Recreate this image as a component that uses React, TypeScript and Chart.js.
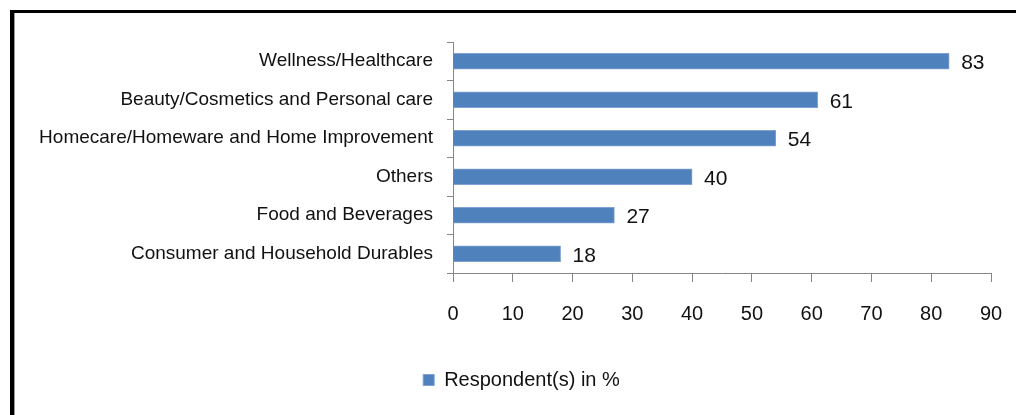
import React, { useEffect, useRef } from "react";
import { Chart, registerables } from "chart.js";

Chart.register(...registerables);

const categories = [
  "Wellness/Healthcare",
  "Beauty/Cosmetics and Personal care",
  "Homecare/Homeware and Home Improvement",
  "Others",
  "Food and Beverages",
  "Consumer and Household Durables",
];
const respondents = [83, 61, 54, 40, 27, 18];
const seriesLabel = "Respondent(s) in %";
const xMin = 0;
const xMax = 90;
const xStep = 10;

const FONT = "'Liberation Sans', Arial, sans-serif";

const valueLabels = {
  id: "valueLabels",
  afterDatasetsDraw(chart: any) {
    const ctx = chart.ctx;
    const meta = chart.getDatasetMeta(0);
    ctx.save();
    ctx.font = `21px ${FONT}`;
    ctx.fillStyle = "#111";
    ctx.textAlign = "left";
    ctx.textBaseline = "middle";
    meta.data.forEach((bar: any, i: number) => {
      ctx.fillText(String(respondents[i]), bar.x + 12, bar.y + 2);
    });
    ctx.restore();
  },
};

const legendShift = {
  id: "legendShift",
  afterLayout(chart: any) {
    if (chart.legend) {
      chart.legend.left += 26;
      chart.legend.right += 26;
    }
  },
};

export default function App() {
  const ref = useRef<HTMLCanvasElement | null>(null);
  useEffect(() => {
    if (!ref.current) return;
    const chart = new Chart(ref.current, {
      type: "bar",
      data: {
        labels: categories,
        datasets: [
          {
            label: seriesLabel,
            data: respondents,
            backgroundColor: "#4F81BD",
            borderColor: "#7FA2D2",
            borderWidth: 1,
            barThickness: 16,
          },
        ],
      },
      options: {
        indexAxis: "y",
        animation: false,
        responsive: false,
        layout: { padding: { left: 0, right: 25, top: 42, bottom: 15 } },
        scales: {
          x: {
            min: xMin,
            max: xMax,
            ticks: {
              stepSize: xStep,
              color: "#111",
              font: { family: FONT, size: 20 },
              padding: 20,
            },
            grid: {
              drawOnChartArea: false,
              drawTicks: true,
              tickLength: 9,
              color: "#868686",
            },
            border: { color: "#868686", width: 1 },
            afterFit(scale: any) {
              scale.height = 87;
              scale.paddingLeft = 0;
              scale.paddingRight = 0;
            },
          },
          y: {
            ticks: {
              color: "#111",
              font: { family: FONT, size: 19 },
              padding: 14,
            },
            grid: {
              drawOnChartArea: false,
              drawTicks: true,
              tickLength: 6,
              offset: true,
              color: "#868686",
            },
            border: { color: "#868686", width: 1 },
            afterFit(scale: any) {
              scale.width = 453;
            },
          },
        },
        plugins: {
          legend: {
            position: "bottom",
            labels: {
              boxWidth: 11,
              boxHeight: 11,
              padding: 10,
              color: "#111",
              font: { family: FONT, size: 20 },
            },
          },
          tooltip: { enabled: false },
        },
      },
      plugins: [valueLabels, legendShift],
    });
    return () => chart.destroy();
  }, []);

  return (
    <div
      style={{
        position: "absolute",
        left: 0,
        top: 0,
        width: 1016,
        height: 415,
        background: "#ffffff",
        overflow: "hidden",
      }}
    >
      <canvas
        ref={ref}
        width={1016}
        height={415}
        style={{ position: "absolute", left: 0, top: 0, width: 1016, height: 415 }}
      />
      <div style={{ position: "absolute", left: 10, top: 10, width: 1006, height: 3, background: "#000" }} />
      <div style={{ position: "absolute", left: 10, top: 10, width: 4, height: 405, background: "#000" }} />
      <div style={{ position: "absolute", left: 14, top: 13, width: 1, height: 402, background: "#9a9a9a" }} />
    </div>
  );
}
